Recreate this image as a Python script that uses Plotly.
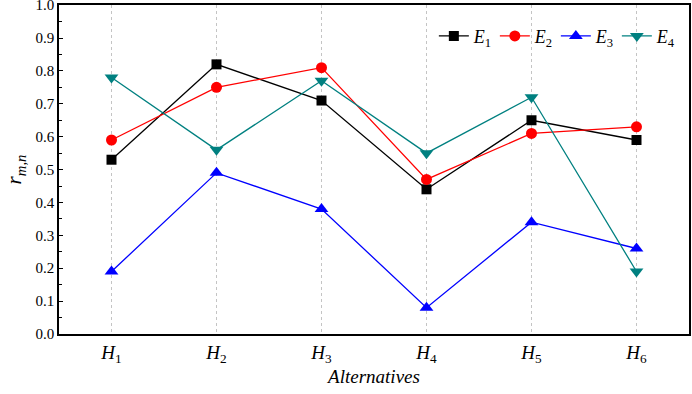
import plotly.graph_objects as go

categories = ["H1", "H2", "H3", "H4", "H5", "H6"]
tick_labels = ["<i>H</i><sub>1</sub>", "<i>H</i><sub>2</sub>", "<i>H</i><sub>3</sub>",
               "<i>H</i><sub>4</sub>", "<i>H</i><sub>5</sub>", "<i>H</i><sub>6</sub>"]
E1 = [0.53, 0.82, 0.71, 0.44, 0.65, 0.59]
E2 = [0.59, 0.75, 0.81, 0.47, 0.61, 0.63]
E3 = [0.19, 0.49, 0.38, 0.08, 0.34, 0.26]
E4 = [0.78, 0.56, 0.77, 0.55, 0.72, 0.19]
series_names = ["<i>E</i><sub>1</sub>", "<i>E</i><sub>2</sub>", "<i>E</i><sub>3</sub>", "<i>E</i><sub>4</sub>"]
y_ticks = [0.0, 0.1, 0.2, 0.3, 0.4, 0.5, 0.6, 0.7, 0.8, 0.9, 1.0]

styles = [
    ("black", "square", 10),
    ("red", "circle", 11),
    ("blue", "triangle-up", 12),
    ("#008080", "triangle-down", 12),
]

FONT = "Liberation Serif"
x = list(range(1, len(categories) + 1))

fig = go.Figure()
for name, vals, (col, sym, sz) in zip(series_names, [E1, E2, E3, E4], styles):
    fig.add_trace(go.Scatter(
        x=x, y=vals, name=name, mode="lines+markers",
        line=dict(color=col, width=1.3),
        marker=dict(color=col, symbol=sym, size=sz),
    ))

fig.update_layout(
    width=692, height=394,
    margin=dict(l=59, r=3, t=5, b=60, autoexpand=False),
    paper_bgcolor="white", plot_bgcolor="white",
    font=dict(family=FONT, size=15, color="black"),
    showlegend=True,
    legend=dict(
        orientation="h", x=0.595, y=0.905, xanchor="left", yanchor="middle",
        bgcolor="rgba(0,0,0,0)", font=dict(size=18, family=FONT),
        itemwidth=30, tracegroupgap=0, itemsizing="trace",
        entrywidth=16, entrywidthmode="pixels",
    ),
)
fig.update_xaxes(
    range=[0.5, 6.5], tickmode="array", tickvals=x, ticktext=tick_labels,
    showgrid=True, gridcolor="#c4c4c4", griddash="dot", gridwidth=1,
    showline=True, linecolor="black", linewidth=1.5, mirror=True,
    ticks="", zeroline=False, automargin=False,
    tickfont=dict(size=19, family=FONT),
    title=dict(text="<i>Alternatives</i>", font=dict(size=19, family=FONT), standoff=4),
)
fig.update_yaxes(
    range=[0, 1.0005], tickmode="array", tickvals=y_ticks,
    ticktext=[f"{v:.1f}" for v in y_ticks], ticklabeloverflow="allow",
    showgrid=False, zeroline=False, automargin=False,
    showline=True, linecolor="black", linewidth=1.5, mirror=True,
    ticks="inside", ticklen=4, tickwidth=1, tickcolor="black",
    minor=dict(ticks="inside", ticklen=3, dtick=0.05, tickcolor="black", showgrid=False),
    tickfont=dict(size=15, family=FONT),
    title=dict(text="<i>r</i><sub><i>m,n</i></sub>", font=dict(size=21, family=FONT), standoff=8),
)

fig.write_html("out.html", config={"displayModeBar": False},
               post_script="document.body.style.margin='0';")
